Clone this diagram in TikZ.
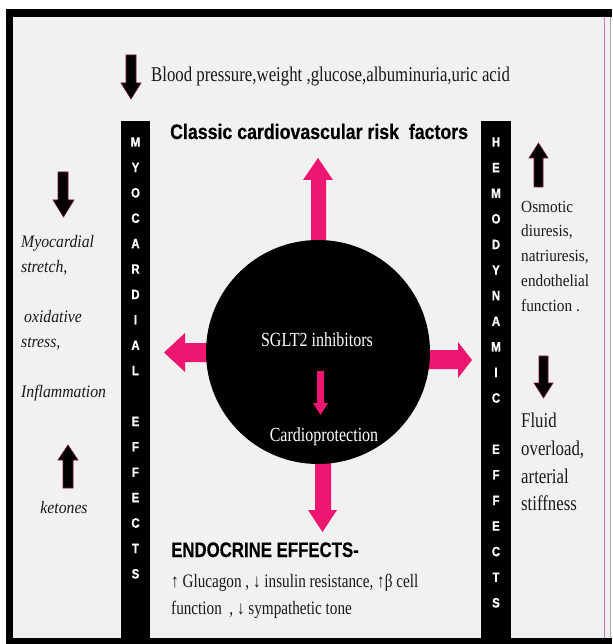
\documentclass[tikz,border=0pt]{standalone}
\usepackage{fontspec}
\setmainfont{Liberation Serif}
\newfontfamily\serifc[FakeStretch=0.8]{Liberation Serif}
\newfontfamily\serifi[FakeStretch=0.9]{Liberation Serif}
\newfontfamily\sansc[FakeStretch=0.8,FakeBold=0.4]{Liberation Sans}
\newfontfamily\sansh[FakeStretch=0.845,FakeBold=0.4]{Liberation Sans}
\newfontfamily\sansl[FakeStretch=0.85,FakeBold=0.8]{Liberation Sans}
\definecolor{pinkA}{RGB}{237,22,112}
\definecolor{bgG}{RGB}{241,241,241}
\definecolor{maroon}{RGB}{120,20,60}
\definecolor{frameP}{RGB}{200,120,185}
\definecolor{txt}{RGB}{25,25,25}
\tikzset{
  pinkarrow/.style={fill=pinkA, draw=none},
  blkarrow/.style={fill=black, draw=maroon, line width=0.6pt},
  barletter/.style={text=white, inner sep=0pt, font=\sansl\bfseries\fontsize{13.5}{13.5}\selectfont},
  sertext/.style={text=txt, inner sep=0pt, anchor=base west},
  headtext/.style={text=black, inner sep=0pt, anchor=base west, font=\sansc\bfseries\fontsize{21}{21}\selectfont},
}
\begin{document}
\begin{tikzpicture}[x=1pt,y=-1pt]
\useasboundingbox (0,0) rectangle (612,644);
% frame
\fill[white] (0,0) rectangle (612,644);
\fill[bgG] (13,17) rectangle (610,638);
\fill[black] (6,9) rectangle (612,17);
\fill[black] (6,9) rectangle (13,644);
\fill[black] (6,638) rectangle (612,644);
\draw[frameP, line width=1pt] (604,17) -- (604,638);
\draw[gray!70, line width=0.5pt] (610,17) -- (610,638);
% vertical bars
\fill[black] (121,121) rectangle (150,638);
\fill[black] (481,121) rectangle (511,638);
\foreach \l [count=\k from 0] in {M,Y,O,C,A,R,D,I,A,L,{},E,F,F,E,C,T,S}
  \node[barletter] (ml\k) at (135.5,{142+25.4*\k}) {\l};
\foreach \l [count=\k from 0] in {H,E,M,O,D,Y,N,A,M,I,C,{},E,F,F,E,C,T,S}
  \node[barletter] (hl\k) at (496,{142+25.6*\k}) {\l};
% pink arrows (drawn before circle)
\fill[pinkarrow] (311,250)--(311,180)--(303,180)--(318,158)--(333,180)--(326,180)--(326,250)--cycle;
\fill[pinkarrow] (315,450)--(315,510)--(308,510)--(322.5,532)--(337,510)--(331,510)--(331,450)--cycle;
\fill[pinkarrow] (225,343)--(185,343)--(185,333)--(164,352.5)--(185,372)--(185,362)--(225,362)--cycle;
\fill[pinkarrow] (410,350)--(458,350)--(458,342)--(472,360)--(458,378)--(458,369)--(410,369)--cycle;
% circle
\node[circle, fill=black, minimum size=224pt, inner sep=0pt] (c) at (318,352) {};
\node[text=white, inner sep=0pt, anchor=base, font=\serifc\fontsize{20}{20}\selectfont] (sglt) at (317,346) {SGLT2 inhibitors};
\fill[pinkarrow] (317,371)--(317,403)--(313,403)--(320.5,415)--(328,403)--(324,403)--(324,371)--cycle;
\node[text=white, inner sep=0pt, anchor=base, font=\serifc\fontsize{20}{20}\selectfont] (cardio) at (324,441) {Cardioprotection};
% top
\fill[blkarrow] (126,55)--(136,55)--(136,83)--(141,83)--(131,99)--(121,83)--(126,83)--cycle;
\node[sertext, font=\serifc\fontsize{21}{21}\selectfont] (top) at (151,82) {Blood pressure,weight ,glucose,albuminuria,uric acid};
\node[headtext, font=\sansh\bfseries\fontsize{21}{21}\selectfont] (classic) at (170,139) {Classic cardiovascular risk\ \ factors};
% left side
\fill[blkarrow] (58,172)--(68,172)--(68,200)--(74,200)--(63.5,217)--(53,200)--(58,200)--cycle;
\begin{scope}[every node/.style={sertext, font=\serifi\itshape\fontsize{17.5}{17.5}\selectfont}]
\node (l1) at (21,247) {Myocardial};
\node (l2) at (21,272) {stretch,};
\node (l3) at (24,322) {oxidative};
\node (l4) at (21,347) {stress,};
\node (l5) at (21,397) {Inflammation};
\node[anchor=base] (l6) at (64,513) {ketones};
\end{scope}
\fill[blkarrow] (63,488)--(63,460)--(58,460)--(68,445)--(78,460)--(73,460)--(73,488)--cycle;
% right side
\fill[blkarrow] (534,187)--(534,158)--(529,158)--(538.5,143)--(548,158)--(543,158)--(543,187)--cycle;
\begin{scope}[every node/.style={sertext, font=\serifi\fontsize{17}{17}\selectfont}]
\node (r1) at (521,212) {Osmotic};
\node (r2) at (521,236) {diuresis,};
\node (r3) at (521,261) {natriuresis,};
\node (r4) at (521,286) {endothelial};
\node (r5) at (521,311) {function .};
\end{scope}
\fill[blkarrow] (539,356)--(548,356)--(548,383)--(553,383)--(543.5,398)--(534,383)--(539,383)--cycle;
\begin{scope}[every node/.style={sertext, font=\serifc\fontsize{21}{21}\selectfont}]
\node (f1) at (521,427) {Fluid};
\node (f2) at (521,455) {overload,};
\node (f3) at (521,483) {arterial};
\node (f4) at (521,510) {stiffness};
\end{scope}
% bottom
\node[headtext] (endo) at (171,557) {ENDOCRINE EFFECTS-};
\begin{scope}[every node/.style={sertext, font=\serifc\fontsize{19}{19}\selectfont}]
\node (e1) at (171,587) {↑ Glucagon , ↓ insulin resistance, ↑β cell};
\node (e2) at (171,614) {function\ \ , ↓ sympathetic tone};
\end{scope}
\end{tikzpicture}
\end{document}
